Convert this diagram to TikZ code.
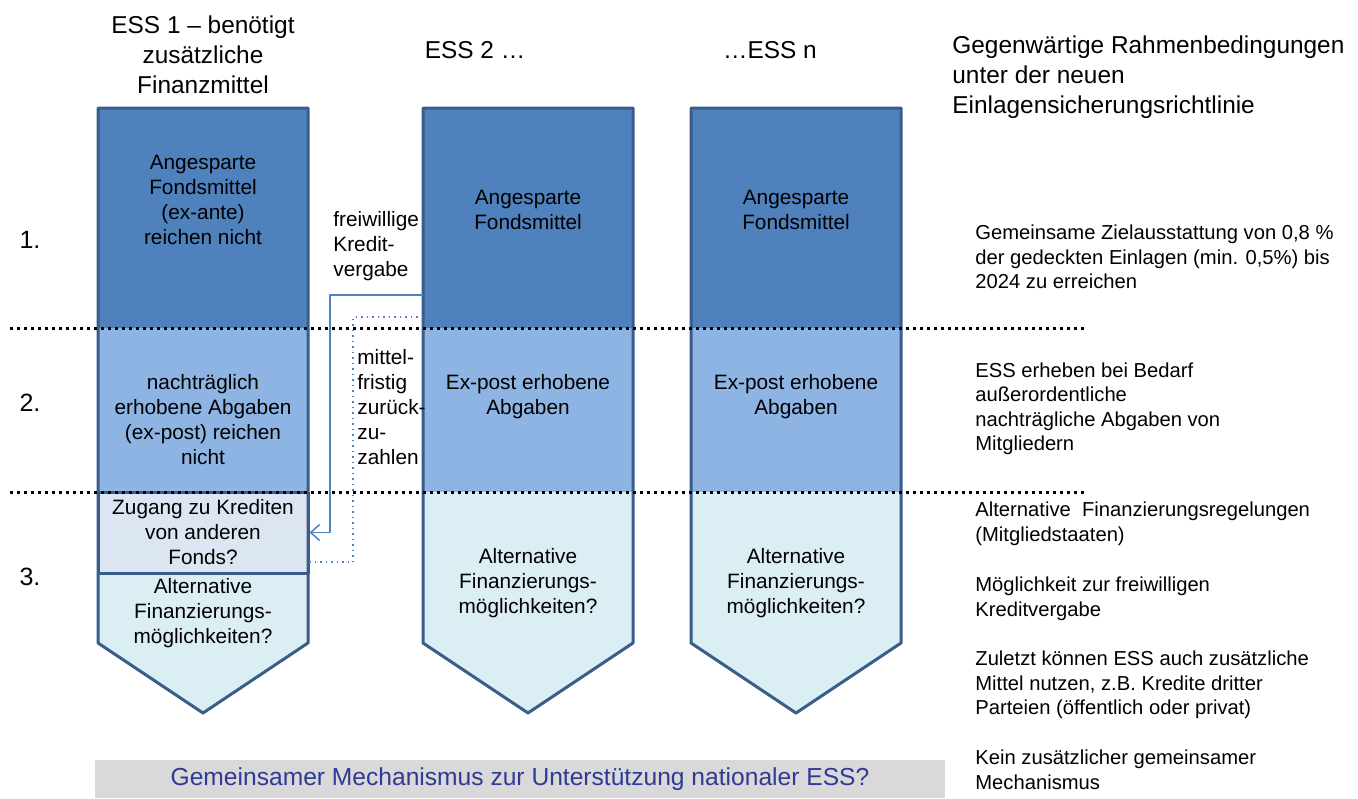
\documentclass[tikz,border=0pt]{standalone}
\usepackage{fontspec}
\setmainfont{Liberation Sans}
\usepackage{tikz}
\usetikzlibrary{positioning}
\usetikzlibrary{arrows.meta}
\usetikzlibrary{calc}

\definecolor{fundblue}{RGB}{79,129,189}
\definecolor{postblue}{RGB}{142,180,227}
\definecolor{loanblue}{RGB}{220,230,242}
\definecolor{altblue}{RGB}{219,238,244}
\definecolor{edgeblue}{RGB}{56,93,138}
\definecolor{bargrey}{RGB}{217,217,217}
\definecolor{bartext}{RGB}{46,58,150}

\newcommand{\headfont}{\fontsize{12.2}{15}\selectfont}
\newcommand{\cellfont}{\fontsize{10.4}{12.5}\selectfont}
\newcommand{\notefont}{\fontsize{10.1}{12.25}\selectfont}
\newcommand{\barfont}{\fontsize{12.3}{14}\selectfont}
\newcommand{\rowfont}{\fontsize{12.5}{15}\selectfont}

\begin{document}
\begin{tikzpicture}[
                x=0.5pt, y=-0.5pt,
                line join=round,
                >={Straight Barb[length=4.5pt,width=8pt]},
                layer/.style={minimum width=105pt, inner sep=0pt, outer sep=0pt, align=center, font=\cellfont},
                rim/.style={draw=edgeblue, line width=1.5pt},
                cell/.style={align=center, font=\cellfont, inner sep=0pt},
                head/.style={align=center, font=\headfont, inner sep=0pt},
                note/.style={align=left, anchor=west, font=\notefont, inner sep=0pt},
                divider/.style={line width=1.5pt, dash pattern=on 1.5pt off 2pt},
                lend/.style={draw=fundblue, line width=0.75pt},
                repay/.style={draw=fundblue, line width=0.75pt, dotted}
            ]

            \useasboundingbox (0,0) rectangle (1358,798);

            % Define nodes: ESS 1
            \node[layer, fill=fundblue, minimum height=110pt] (e1fund) at (203,218) {};
            \node[layer, fill=postblue, minimum height=82pt, below=0pt of e1fund] (e1post) {};
            \node[layer, fill=loanblue, minimum height=40.5pt, below=0pt of e1post] (e1loan) {Zugang zu Krediten\\von anderen\\Fonds?};
            \node[layer, minimum height=35pt, below=0pt of e1loan] (e1alt) {};
            \coordinate[below=35pt of e1alt.south] (e1tip);

            % ESS 2
            \node[layer, fill=fundblue, minimum height=110pt] (e2fund) at (528,218) {};
            \node[layer, fill=postblue, minimum height=82pt, below=0pt of e2fund] (e2post) {};
            \node[layer, minimum height=75.5pt, below=0pt of e2post] (e2alt) {};
            \coordinate[below=35pt of e2alt.south] (e2tip);

            % ESS n
            \node[layer, fill=fundblue, minimum height=110pt] (e3fund) at (796,218) {};
            \node[layer, fill=postblue, minimum height=82pt, below=0pt of e3fund] (e3post) {};
            \node[layer, minimum height=75.5pt, below=0pt of e3post] (e3alt) {};
            \coordinate[below=35pt of e3alt.south] (e3tip);

            % Arrow-shaped lower parts
            \fill[altblue] (e1alt.north west) -- (e1alt.south west) -- (e1tip) -- (e1alt.south east) -- (e1alt.north east) -- cycle;
            \fill[altblue] (e2alt.north west) -- (e2alt.south west) -- (e2tip) -- (e2alt.south east) -- (e2alt.north east) -- cycle;
            \fill[altblue] (e3alt.north west) -- (e3alt.south west) -- (e3tip) -- (e3alt.south east) -- (e3alt.north east) -- cycle;

            % Outlines
            \draw[rim] (e1fund.north west) -- (e1fund.north east) -- (e1alt.south east) -- (e1tip) -- (e1alt.south west) -- cycle;
            \draw[rim] (e1loan.north west) rectangle (e1loan.south east);
            \draw[rim] (e2fund.north west) -- (e2fund.north east) -- (e2alt.south east) -- (e2tip) -- (e2alt.south west) -- cycle;
            \draw[rim] (e3fund.north west) -- (e3fund.north east) -- (e3alt.south east) -- (e3tip) -- (e3alt.south west) -- cycle;

            % Texts in the columns
            \node[cell] (e1fundtxt) at (203,200) {Angesparte\\Fondsmittel\\(ex-ante)\\reichen nicht};
            \node[cell] (e1posttxt) at (203,420) {nachträglich\\erhobene Abgaben\\(ex-post) reichen\\nicht};
            \node[cell] (e1alttxt) at (203,613) {Alternative\\Finanzierungs-\\möglichkeiten?};
            \node[cell] (e2fundtxt) at (528,210) {Angesparte\\Fondsmittel};
            \node[cell] (e2posttxt) at (528,397) {Ex-post erhobene\\Abgaben};
            \node[cell] (e2alttxt) at (528,583) {Alternative\\Finanzierungs-\\möglichkeiten?};
            \node[cell] (e3fundtxt) at (796,210) {Angesparte\\Fondsmittel};
            \node[cell] (e3posttxt) at (796,397) {Ex-post erhobene\\Abgaben};
            \node[cell] (e3alttxt) at (796,583) {Alternative\\Finanzierungs-\\möglichkeiten?};

            % Headings and row numbers
            \node[head] (h1) at (203,55) {ESS 1 – benötigt\\zusätzliche\\Finanzmittel};
            \node[head] (h2) at (475,50) {ESS 2 …};
            \node[head] (h3) at (770,50) {…ESS n};
            \node[head, align=left, anchor=west] (hframe) at (952,77) {Gegenwärtige Rahmenbedingungen\\unter der neuen\\Einlagensicherungsrichtlinie};
            \node[head, font=\rowfont] (r1) at (30,240) {1.};
            \node[head, font=\rowfont] (r2) at (30,403) {2.};
            \node[head, font=\rowfont] (r3) at (30,577) {3.};

            % Dotted dividers
            \draw[divider] (10,328) -- (1085,328);
            \draw[divider] (10,492) -- (1085,492);

            % Lending and repayment
            \coordinate (lendout) at ($(e2fund.south west)+(0,-33)$);
            \coordinate (repayout) at ($(e2fund.south west)+(0,-11)$);
            \coordinate (repayin) at ($(e1loan.south east)+(0,-11)$);
            \draw[lend,->,shorten >=0.75pt] (lendout) -- ++(-93,0) |- (e1loan.east);
            \draw[repay] (repayout) -- ++(-70,0) |- (repayin);
            \node[cell, align=left, anchor=north west] (lendlbl) at (333,211) {freiwillige\\Kredit-\\vergabe};
            \node[cell, align=left, anchor=north west] (repaylbl) at (357,349) {mittel-\\fristig\\zurück-\\zu-\\zahlen};

            % Notes on the right
            \node[note] (n1) at (975,257) {Gemeinsame Zielausstattung von 0,8 \%\\der gedeckten Einlagen (min. 0,5\%) bis\\2024 zu erreichen};
            \node[note] (n2) at (975,409) {ESS erheben bei Bedarf\\außerordentliche\\nachträgliche Abgaben von\\Mitgliedern};
            \node[note] (n3) at (975,524) {Alternative~ Finanzierungsregelungen\\(Mitgliedstaaten)};
            \node[note] (n4) at (975,599) {Möglichkeit zur freiwilligen\\Kreditvergabe};
            \node[note] (n5) at (975,685) {Zuletzt können ESS auch zusätzliche\\Mittel nutzen, z.B. Kredite dritter\\Parteien (öffentlich oder privat)};
            \node[note] (n6) at (975,770) {Kein zusätzlicher gemeinsamer\\Mechanismus};

            % Common mechanism bar
            \node[fill=bargrey, minimum width=425pt, minimum height=19pt, inner sep=0pt, font=\barfont, text=bartext] (mech) at (520,779) {Gemeinsamer Mechanismus zur Unterstützung nationaler ESS?};

        \end{tikzpicture}
\end{document}
